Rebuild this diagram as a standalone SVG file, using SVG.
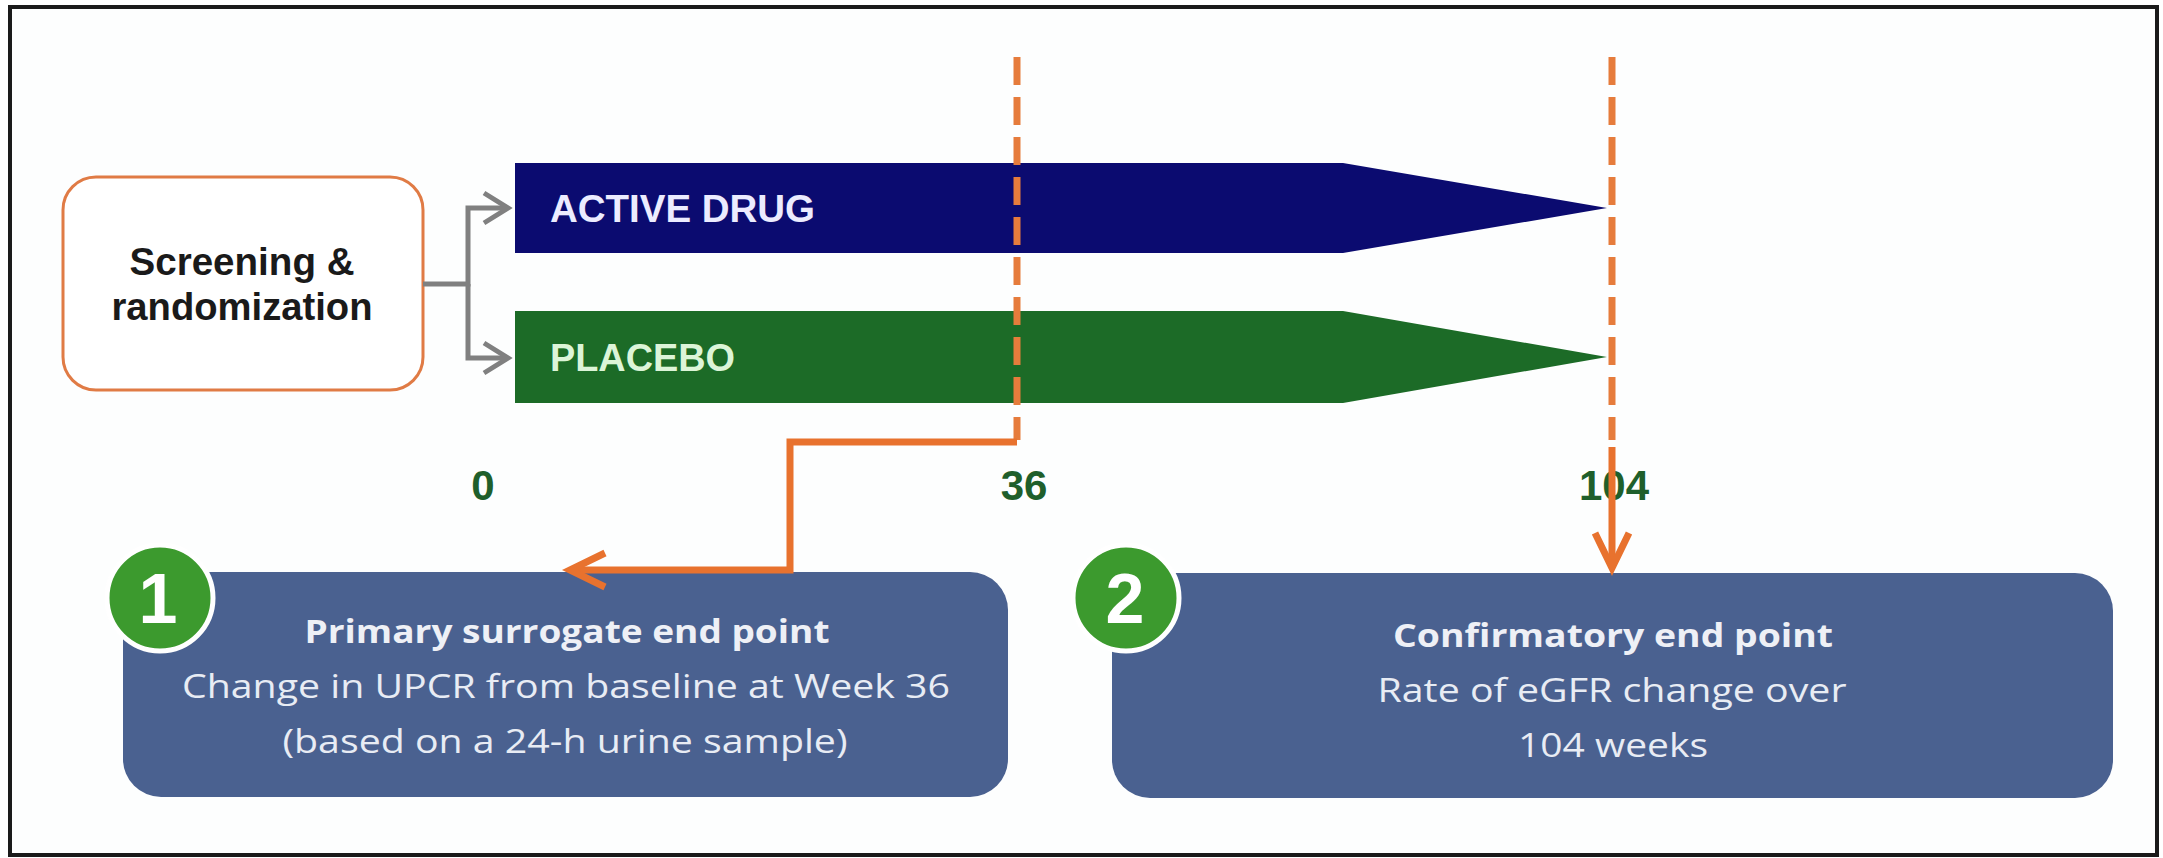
<svg xmlns="http://www.w3.org/2000/svg" width="2163" height="858" viewBox="0 0 2163 858">
<style>
.frame{fill:#fdfefe;stroke:#1a1a1a;stroke-width:4}
.screen{fill:#ffffff;stroke:#e07b45;stroke-width:3}
.stxt{font-family:"Liberation Sans",Arial,sans-serif;font-weight:bold;font-size:38px;fill:#1a1a1a;text-anchor:middle}
.bartxt{font-family:"Liberation Sans",Arial,sans-serif;font-weight:bold;font-size:38px}
.num{font-family:"Liberation Sans",Arial,sans-serif;font-weight:bold;font-size:42px;fill:#1f5f2b;text-anchor:middle}
.ep{fill:#4a6190}
.badge{fill:#3c9a2e;stroke:#ffffff;stroke-width:5}
.badgetxt{font-family:"Liberation Sans",Arial,sans-serif;font-weight:bold;font-size:70px;fill:#ffffff;text-anchor:middle}
.eptitle{font-family:"Open Sans","Noto Sans",sans-serif;font-weight:bold;font-size:32px;fill:#eef0f6;text-anchor:middle}
.eptxt{font-family:"Open Sans","Noto Sans",sans-serif;font-size:32px;fill:#e8ecf4;text-anchor:middle}
.gray{fill:none;stroke:#808080;stroke-width:5}
.dash{fill:none;stroke:#e67c3c;stroke-width:7;stroke-dasharray:28 12}
.orange{fill:none;stroke:#e8722e;stroke-width:7}
</style>
<defs>
<marker id="arrGray" markerUnits="userSpaceOnUse" markerWidth="40" markerHeight="40" refX="30" refY="20" orient="auto" overflow="visible">
<path d="M6,5 L30,20 L6,35" fill="none" stroke="#808080" stroke-width="5"/>
</marker>
<marker id="arrOrange" markerUnits="userSpaceOnUse" markerWidth="50" markerHeight="50" refX="40" refY="20" orient="auto" overflow="visible">
<path d="M5,3 L40,20 L5,37" fill="none" stroke="#e8722e" stroke-width="7"/>
</marker>
</defs>
<rect class="frame" x="10" y="7" width="2147" height="848"/>

<g id="screening">
<rect class="screen" x="63" y="177" width="360" height="213" rx="33" ry="33"/>
<text class="stxt" x="242" y="275" textLength="225" lengthAdjust="spacingAndGlyphs">Screening &amp;</text>
<text class="stxt" x="242" y="320" textLength="261" lengthAdjust="spacingAndGlyphs">randomization</text>
</g>

<g id="active-drug">
<path d="M515,163 H1343 L1607,208 L1343,253 H515 Z" fill="#0b0b70"/>
<text class="bartxt" x="550" y="222" fill="#ececff" textLength="265" lengthAdjust="spacingAndGlyphs">ACTIVE DRUG</text>
</g>

<g id="placebo">
<path d="M515,311 H1343 L1607,357 L1343,403 H515 Z" fill="#1c6b27"/>
<text class="bartxt" x="550" y="371" fill="#dcf5d8" textLength="185" lengthAdjust="spacingAndGlyphs">PLACEBO</text>
</g>

<g id="week-labels">
<text class="num" x="483" y="500">0</text>
<text class="num" x="1024" y="500">36</text>
<text class="num" x="1614" y="500">104</text>
</g>

<g id="endpoint-1">
<rect class="ep" x="123" y="572" width="885" height="225" rx="38" ry="38"/>
<circle class="badge" cx="160" cy="598" r="53"/>
<text class="badgetxt" x="158" y="623">1</text>
<text class="eptitle" x="567" y="643" textLength="525" lengthAdjust="spacingAndGlyphs">Primary surrogate end point</text>
<text class="eptxt" x="566" y="698" textLength="768" lengthAdjust="spacingAndGlyphs">Change in UPCR from baseline at Week 36</text>
<text class="eptxt" x="565" y="753" textLength="565" lengthAdjust="spacingAndGlyphs">(based on a 24-h urine sample)</text>
</g>

<g id="endpoint-2">
<rect class="ep" x="1112" y="573" width="1001" height="225" rx="38" ry="38"/>
<circle class="badge" cx="1126" cy="598" r="53"/>
<text class="badgetxt" x="1125" y="623">2</text>
<text class="eptitle" x="1613" y="647" textLength="440" lengthAdjust="spacingAndGlyphs">Confirmatory end point</text>
<text class="eptxt" x="1612" y="702" textLength="469" lengthAdjust="spacingAndGlyphs">Rate of eGFR change over</text>
<text class="eptxt" x="1613" y="757" textLength="190" lengthAdjust="spacingAndGlyphs">104 weeks</text>
</g>

<g id="connectors">
<path class="gray" d="M423,284 H468 V208 H508" marker-end="url(#arrGray)"/>
<path class="gray" d="M468,284 V358 H508" marker-end="url(#arrGray)"/>
<path class="dash" d="M1017,57 V440"/>
<path class="orange" d="M1017,442 H790 V570 H570" marker-end="url(#arrOrange)"/>
<path class="dash" d="M1612,57 V440"/>
<path class="orange" d="M1612,447 V568" marker-end="url(#arrOrange)"/>
</g>
</svg>
